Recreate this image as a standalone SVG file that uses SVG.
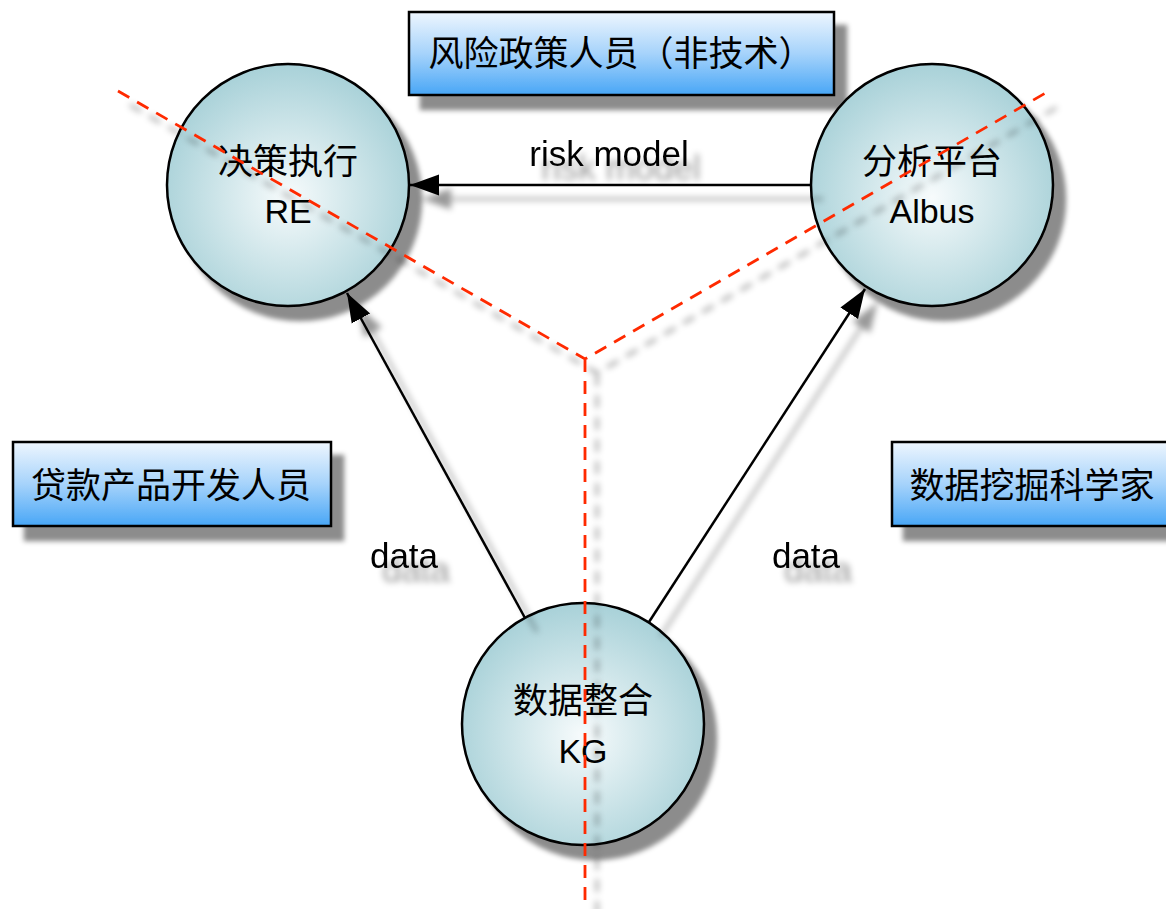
<svg xmlns="http://www.w3.org/2000/svg" width="1166" height="909" viewBox="0 0 1166 909">
  <defs>
    <linearGradient id="boxFill" x1="0" y1="0" x2="0" y2="1">
      <stop offset="0" stop-color="#eef6fe"/>
      <stop offset="0.5" stop-color="#a6d3fb"/>
      <stop offset="1" stop-color="#48a6f6"/>
    </linearGradient>
    <radialGradient id="ballFill" cx="0.5" cy="0.55" r="0.55">
      <stop offset="0" stop-color="#f7fbfc"/>
      <stop offset="1" stop-color="#a8d1d8"/>
    </radialGradient>
    <!-- soft drop shadow for solid shapes -->
    <filter id="shadow" filterUnits="userSpaceOnUse" x="0" y="0" width="1166" height="909">
      <feGaussianBlur in="SourceAlpha" stdDeviation="2.6"/>
      <feOffset dx="12" dy="14" result="b"/>
      <feFlood flood-color="#000" flood-opacity="0.45"/>
      <feComposite in2="b" operator="in" result="s"/>
      <feMerge>
        <feMergeNode in="s"/>
        <feMergeNode in="SourceGraphic"/>
      </feMerge>
    </filter>
    <!-- wider, lighter shadow for thin strokes and labels -->
    <filter id="softShadow" filterUnits="userSpaceOnUse" x="0" y="0" width="1166" height="909">
      <feGaussianBlur in="SourceAlpha" stdDeviation="3.4"/>
      <feOffset dx="12" dy="14" result="b"/>
      <feFlood flood-color="#000" flood-opacity="0.4"/>
      <feComposite in2="b" operator="in" result="s"/>
      <feMerge>
        <feMergeNode in="s"/>
        <feMergeNode in="SourceGraphic"/>
      </feMerge>
    </filter>
    <marker id="head" markerUnits="userSpaceOnUse" viewBox="0 0 30 24" markerWidth="30" markerHeight="24" refX="29" refY="12" orient="auto">
      <path d="M0,1.5 L29,12 L0,22.5 z" fill="#000"/>
    </marker>
    <style>
      .box { fill: url(#boxFill); stroke: #000; stroke-width: 2.5; }
      .ball { fill: url(#ballFill); stroke: #000; stroke-width: 2.5; }
      .cjk { font-family: "Liberation Sans", "Noto Sans CJK SC", sans-serif; font-size: 35px; fill: #000; text-anchor: middle; }
      .lat { font-family: "Liberation Sans", "Noto Sans CJK SC", sans-serif; font-size: 34px; fill: #000; text-anchor: middle; }
      .label { font-family: "Liberation Sans", sans-serif; font-size: 35px; fill: #000; text-anchor: middle; }
      .edge { fill: none; stroke: #000; stroke-width: 2.5; marker-end: url(#head); }
      .split { fill: none; stroke: #ff2a00; stroke-width: 2.8; stroke-dasharray: 13 9; }
    </style>
  </defs>

  <rect width="1166" height="909" fill="#fff"/>

  <!-- role boxes -->
  <g id="policy-staff">
    <rect class="box" x="409" y="12" width="425" height="83" filter="url(#shadow)"/>
    <text class="cjk" x="621" y="66">风险政策人员（非技术）</text>
  </g>
  <g id="loan-developers">
    <rect class="box" x="13" y="442" width="318" height="84" filter="url(#shadow)"/>
    <text class="cjk" x="171" y="498">贷款产品开发人员</text>
  </g>
  <g id="data-scientists">
    <rect class="box" x="892" y="442" width="290" height="84" filter="url(#shadow)"/>
    <text class="cjk" x="1032" y="498">数据挖掘科学家</text>
  </g>

  <!-- system nodes -->
  <g id="re">
    <circle class="ball" cx="288" cy="185" r="121" filter="url(#shadow)"/>
    <text class="cjk" x="288" y="174">决策执行</text>
    <text class="lat" x="288" y="223">RE</text>
  </g>
  <g id="albus">
    <circle class="ball" cx="932" cy="185" r="121" filter="url(#shadow)"/>
    <text class="cjk" x="932" y="174">分析平台</text>
    <text class="lat" x="932" y="223">Albus</text>
  </g>
  <g id="kg">
    <circle class="ball" cx="583" cy="724" r="121" filter="url(#shadow)"/>
    <text class="cjk" x="583" y="713">数据整合</text>
    <text class="lat" x="583" y="763">KG</text>
  </g>

  <!-- connectors -->
  <g id="connectors" filter="url(#softShadow)">
    <path class="edge" d="M811,185 L410,185"/>
    <path class="edge" d="M525,618 L347,293"/>
    <path class="edge" d="M649,622 L865,289"/>
    <text class="label" x="609" y="166">risk model</text>
    <text class="label" x="404" y="568">data</text>
    <text class="label" x="806" y="568">data</text>
  </g>

  <!-- role boundaries -->
  <g id="boundaries" filter="url(#softShadow)">
    <path class="split" d="M118,91 L585,359 L1049,91 M585,359 L585,909"/>
  </g>
</svg>
